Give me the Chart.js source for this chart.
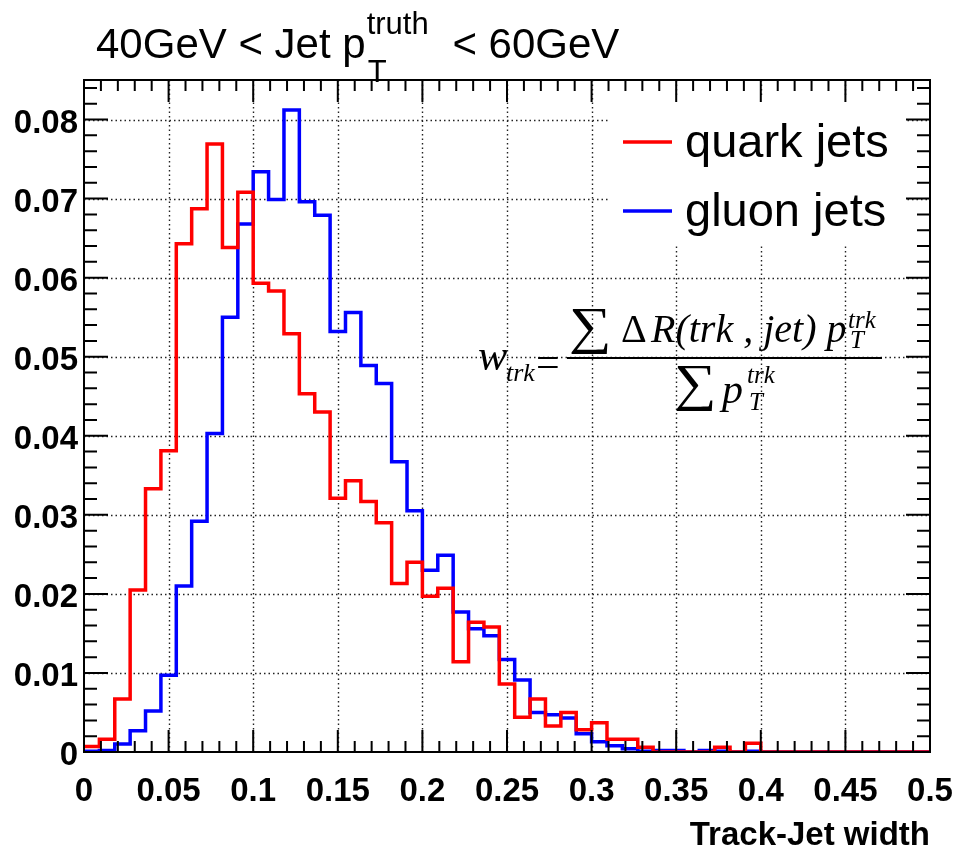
<!DOCTYPE html>
<html>
<head>
<meta charset="utf-8">
<title>Track-Jet width</title>
<script src="https://cdn.jsdelivr.net/npm/chart.js@4.4.1/dist/chart.umd.min.js"></script>
<style>
  html, body { margin: 0; padding: 0; background: #fff; }
  #wrap { width: 956px; height: 851px; }
</style>
</head>
<body>
<div id="wrap"><canvas id="widthChart" width="956" height="851"></canvas></div>
<script>
// Histogram binning: 55 equal bins between 0 and 0.5
const xMin = 0;
const xMax = 0.5;
const nBins = 55;

// Normalised track-jet width, one entry per bin
const quarkJets = [
    0.0007, 0.0016, 0.0067, 0.0205, 0.0333, 0.0381, 0.0643, 0.0687, 0.0769, 0.0638,
    0.0708, 0.0593, 0.0583, 0.0529, 0.0453, 0.0430, 0.0321, 0.0343, 0.0317, 0.0290,
    0.0213, 0.0240, 0.0197, 0.0207, 0.0114, 0.0164, 0.0158, 0.0086, 0.0044, 0.0067,
    0.0033, 0.0050, 0.0028, 0.0037, 0.0016, 0.0016, 0.0006, 0, 0, 0,
    0, 0.0006, 0, 0.0011, 0, 0, 0, 0, 0, 0,
    0, 0, 0, 0, 0
];
const gluonJets = [
    0.0001, 0.0002, 0.0010, 0.0027, 0.0052, 0.0097, 0.0210, 0.0292, 0.0403, 0.0550,
    0.0668, 0.0734, 0.0699, 0.0812, 0.0696, 0.0679, 0.0532, 0.0556, 0.0489, 0.0466,
    0.0367, 0.0305, 0.0230, 0.0249, 0.0177, 0.0156, 0.0147, 0.0117, 0.0091, 0.0050,
    0.0047, 0.0043, 0.0023, 0.0013, 0.0008, 0.0004, 0.0001, 0.0002, 0.0002, 0,
    0.0002, 0.0001, 0, 0.0001, 0, 0, 0, 0, 0, 0,
    0, 0, 0, 0, 0
];

const seriesLabels = ['quark jets', 'gluon jets'];
const xTickStep = 0.05;
const xMinorStep = 0.01;
const yTickStep = 0.01;
const yMinorStep = 0.002;
const yMax = 0.085;
const xTitle = 'Track-Jet width';

const labelFont = { family: "'Liberation Sans', Arial, sans-serif", size: 33, weight: 'bold' };

// turn bin contents into step points at the left bin edges (+ closing point)
function toSteps(values) {
    const w = (xMax - xMin) / nBins;
    const pts = values.map((v, i) => ({ x: xMin + i * w, y: v }));
    pts.push({ x: xMax, y: values[values.length - 1] });
    return pts;
}

function fmt(v) {
    return v === 0 ? '0' : String(parseFloat(v.toFixed(3)));
}

// big summation sign, stretched a little sideways
function drawSum(ctx, x, baseline) {
    ctx.save();
    ctx.font = "52px 'Liberation Serif', 'Times New Roman', serif";
    ctx.translate(x, baseline);
    ctx.scale(1.15, 1);
    ctx.fillText('\u2211', 0, 0);
    ctx.restore();
}

// ROOT-like frame: dotted grid, inward ticks on all four sides, legend, title, formula
const rootFrame = {
    id: 'rootFrame',
    beforeDatasetsDraw(chart) {
        const { ctx, chartArea: a, scales: { x, y } } = chart;
        ctx.save();
        ctx.strokeStyle = '#222';
        ctx.lineWidth = 1.4;
        ctx.setLineDash([1.5, 3]);
        x.ticks.forEach(t => {
            if (t.value <= x.min || t.value >= x.max) return;
            const px = Math.round(x.getPixelForValue(t.value)) + 0.5;
            ctx.beginPath(); ctx.moveTo(px, a.top); ctx.lineTo(px, a.bottom); ctx.stroke();
        });
        y.ticks.forEach(t => {
            if (t.value <= y.min || t.value >= y.max) return;
            const py = Math.round(y.getPixelForValue(t.value)) + 0.5;
            ctx.beginPath(); ctx.moveTo(a.left, py); ctx.lineTo(a.right, py); ctx.stroke();
        });
        ctx.restore();
    },
    afterDatasetsDraw(chart) {
        const { ctx, chartArea: a, scales: { x, y } } = chart;
        ctx.save();

        // legend
        ctx.fillStyle = '#fff';
        ctx.fillRect(610, 98, 296, 147);
        const rows = [142, 211];
        chart.data.datasets.forEach((ds, i) => {
            ctx.strokeStyle = ds.borderColor;
            ctx.lineWidth = 3.5;
            ctx.beginPath(); ctx.moveTo(623, rows[i]); ctx.lineTo(672, rows[i]); ctx.stroke();
            ctx.fillStyle = '#000';
            ctx.font = "47px 'Liberation Sans', Arial, sans-serif";
            ctx.textBaseline = 'alphabetic';
            ctx.fillText(ds.label, 685, rows[i] + 15);
        });

        // frame
        ctx.strokeStyle = '#000';
        ctx.lineWidth = 2;
        ctx.strokeRect(a.left, a.top, a.right - a.left, a.bottom - a.top);

        // x ticks, bottom and top
        const nx = Math.round((x.max - x.min) / xMinorStep);
        for (let k = 0; k <= nx; k++) {
            const px = x.getPixelForValue(x.min + k * xMinorStep);
            const len = k % Math.round(xTickStep / xMinorStep) === 0 ? 22 : 11;
            ctx.beginPath();
            ctx.moveTo(px, a.bottom); ctx.lineTo(px, a.bottom - len);
            ctx.moveTo(px, a.top); ctx.lineTo(px, a.top + len);
            ctx.stroke();
        }
        // y ticks, left and right
        const ny = Math.floor((y.max - y.min) / yMinorStep + 1e-6);
        for (let k = 0; k <= ny; k++) {
            const py = y.getPixelForValue(y.min + k * yMinorStep);
            const len = k % Math.round(yTickStep / yMinorStep) === 0 ? 24 : 13;
            ctx.beginPath();
            ctx.moveTo(a.left, py); ctx.lineTo(a.left + len, py);
            ctx.moveTo(a.right, py); ctx.lineTo(a.right - len, py);
            ctx.stroke();
        }
        ctx.restore();
    },
    afterDraw(chart) {
        const { ctx } = chart;
        ctx.save();
        ctx.fillStyle = '#000';
        ctx.textBaseline = 'alphabetic';

        // title: 40GeV < Jet p_T^truth < 60GeV
        const sans = s => s + "px 'Liberation Sans', Arial, sans-serif";
        let cx = 96;
        ctx.font = sans(42);
        ctx.fillText('40GeV < Jet p', cx, 58);
        cx += ctx.measureText('40GeV < Jet p').width + 1;
        ctx.font = sans(31);
        ctx.fillText('truth', cx, 34);
        ctx.fillText('T', cx + 1, 82);
        cx += ctx.measureText('truth').width + 12;
        ctx.font = sans(42);
        ctx.fillText(' < 60GeV', cx, 58);

        // weight definition
        const it = s => 'italic ' + s + "px 'Liberation Serif', 'Times New Roman', serif";
        const rm = s => s + "px 'Liberation Serif', 'Times New Roman', serif";
        ctx.font = it(44); ctx.fillText('w', 478, 370);
        ctx.font = it(26); ctx.fillText('trk', 506, 381);
        ctx.font = rm(42); ctx.fillText('=', 536, 376);
        ctx.lineWidth = 2;
        ctx.beginPath(); ctx.moveTo(567, 358); ctx.lineTo(882, 358); ctx.stroke();
        drawSum(ctx, 569, 343);
        ctx.font = rm(40); ctx.fillText('\u0394', 621, 342);
        ctx.font = it(40); ctx.fillText('R(trk , jet) p', 651, 342);
        ctx.font = it(25); ctx.fillText('trk', 848, 328); ctx.fillText('T', 850, 348);
        drawSum(ctx, 674, 400);
        ctx.font = it(42); ctx.fillText('p', 722, 403);
        ctx.font = it(25); ctx.fillText('trk', 747, 383); ctx.fillText('T', 749, 410);
        ctx.restore();
    }
};

new Chart(document.getElementById('widthChart'), {
    type: 'line',
    data: {
        datasets: [
            {
                label: seriesLabels[0],
                data: toSteps(quarkJets),
                borderColor: '#ff0000',
                borderWidth: 3.5,
                stepped: 'before',
                pointRadius: 0,
                fill: false
            },
            {
                label: seriesLabels[1],
                data: toSteps(gluonJets),
                borderColor: '#0000ff',
                borderWidth: 3.5,
                stepped: 'before',
                pointRadius: 0,
                fill: false
            }
        ]
    },
    options: {
        responsive: false,
        devicePixelRatio: 1,
        animation: false,
        layout: { padding: { top: 80, right: 26, left: 0, bottom: 0 } },
        plugins: {
            legend: { display: false },
            tooltip: { enabled: false }
        },
        scales: {
            x: {
                type: 'linear',
                min: xMin,
                max: xMax,
                grid: { display: false, drawTicks: false },
                border: { display: false },
                ticks: {
                    stepSize: xTickStep,
                    autoSkip: false,
                    maxRotation: 0,
                    padding: 20,
                    color: '#000',
                    font: labelFont,
                    callback: v => fmt(v)
                },
                title: {
                    display: true,
                    text: xTitle,
                    align: 'end',
                    color: '#000',
                    font: labelFont,
                    padding: { top: 0, bottom: -5 }
                },
                afterFit(scale) {
                    // labels may hang past the frame, keep the plot box fixed
                    scale.height = 99;
                    scale.paddingLeft = 0;
                    scale.paddingRight = 0;
                }
            },
            y: {
                min: 0,
                max: yMax,
                grid: { display: false, drawTicks: false },
                border: { display: false },
                ticks: {
                    stepSize: yTickStep,
                    includeBounds: false,
                    padding: 6,
                    labelOffset: 4,
                    color: '#000',
                    font: labelFont,
                    callback: v => fmt(v)
                },
                afterFit(scale) {
                    scale.width = 84;
                    scale.paddingTop = 0;
                    scale.paddingBottom = 0;
                }
            }
        }
    },
    plugins: [rootFrame]
});
</script>
</body>
</html>
